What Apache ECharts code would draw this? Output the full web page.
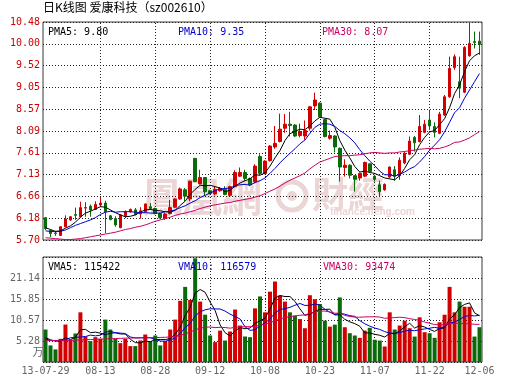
<!DOCTYPE html>
<html><head><meta charset="utf-8">
<script src="https://cdn.jsdelivr.net/npm/echarts@6/dist/echarts.min.js"></script>
<style>html,body{margin:0;padding:0;background:#fff}#c{width:530px;height:391px}</style>
</head><body><div id="c"></div>
<script>
const dates = ['13-07-29','13-07-30','13-07-31','13-08-01','13-08-02','13-08-05','13-08-06','13-08-07','13-08-08','13-08-09',
'13-08-12','13-08-13','13-08-14','13-08-15','13-08-16','13-08-19','13-08-20','13-08-21','13-08-22','13-08-23',
'13-08-26','13-08-27','13-08-28','13-08-29','13-08-30','13-09-02','13-09-03','13-09-04','13-09-05','13-09-06',
'13-09-09','13-09-10','13-09-11','13-09-12','13-09-13','13-09-16','13-09-17','13-09-18','13-09-23','13-09-24',
'13-09-25','13-09-26','13-09-27','13-09-30','13-10-08','13-10-09','13-10-10','13-10-11','13-10-14','13-10-15',
'13-10-16','13-10-17','13-10-18','13-10-21','13-10-22','13-10-23','13-10-24','13-10-25','13-10-28','13-10-29',
'13-10-30','13-10-31','13-11-01','13-11-04','13-11-05','13-11-06','13-11-07','13-11-08','13-11-11','13-11-12',
'13-11-13','13-11-14','13-11-15','13-11-18','13-11-19','13-11-20','13-11-21','13-11-22','13-11-25','13-11-26',
'13-11-27','13-11-28','13-11-29','13-12-02','13-12-03','13-12-04','13-12-05','13-12-06'];

const opens = [6.19,5.91,5.85,5.80,5.99,6.14,6.26,6.21,6.40,6.44,
6.37,6.47,6.51,6.23,6.17,5.97,6.23,6.32,6.36,6.27,
6.32,6.43,6.39,6.28,6.18,6.28,6.42,6.60,6.80,6.60,
7.49,6.93,7.07,6.78,6.71,6.78,6.81,6.68,6.87,7.10,
7.18,7.05,6.98,7.53,7.16,7.44,7.74,7.86,8.15,8.24,
8.22,7.99,7.98,8.15,8.64,8.70,8.34,7.93,7.98,7.71,
7.29,7.34,7.11,7.06,7.10,7.37,7.10,6.91,6.80,7.08,
7.24,7.11,7.39,7.58,7.95,7.86,8.06,8.33,8.19,8.04,
8.44,8.84,9.48,9.17,8.94,9.74,10.05,10.06];

const closes = [5.95,5.84,5.84,5.99,6.16,6.21,6.24,6.41,6.41,6.36,
6.48,6.51,6.32,6.15,6.03,6.25,6.32,6.37,6.26,6.34,
6.49,6.39,6.28,6.19,6.27,6.41,6.60,6.82,6.66,6.99,
6.98,7.07,6.76,6.72,6.81,6.83,6.70,6.87,7.18,7.18,
7.05,6.91,7.32,7.16,7.43,7.76,7.82,8.13,8.24,8.21,
7.98,8.08,8.10,8.62,8.77,8.40,7.97,7.99,7.74,7.30,
7.34,7.12,7.03,7.16,7.40,7.20,7.03,6.76,6.92,7.30,
7.10,7.45,7.60,7.87,7.83,8.19,8.24,8.20,8.06,8.46,
8.84,9.46,9.72,9.03,9.92,10.01,10.03,9.99];

const lows = [5.92,5.76,5.79,5.79,5.98,6.12,6.14,6.20,6.21,6.21,
6.36,6.43,5.85,6.13,5.99,5.96,6.18,6.30,6.24,6.17,
6.31,6.36,6.26,6.17,6.14,6.26,6.41,6.58,6.55,6.55,
6.97,6.92,6.68,6.70,6.68,6.76,6.68,6.66,6.86,7.08,
7.00,6.88,6.95,7.12,7.14,7.42,7.70,7.84,8.05,7.97,
7.96,7.95,7.90,8.10,8.55,8.38,7.95,7.90,7.62,6.98,
7.09,7.05,6.76,7.00,7.08,7.18,6.98,6.65,6.78,7.05,
7.00,7.02,7.36,7.56,7.64,7.84,8.04,8.11,7.95,8.02,
8.42,8.82,9.43,8.81,8.92,9.72,9.90,9.76];

const highs = [6.20,5.93,5.90,6.00,6.24,6.22,6.41,6.54,6.53,6.48,
6.55,6.62,6.56,6.25,6.22,6.27,6.35,6.39,6.40,6.42,
6.50,6.51,6.41,6.30,6.30,6.58,6.61,6.85,6.84,7.00,
7.50,7.24,7.08,6.80,6.87,6.86,6.88,6.89,7.23,7.29,
7.24,7.07,7.36,7.58,7.45,7.78,8.20,8.47,8.46,8.51,
8.24,8.25,8.32,8.64,8.93,8.72,8.36,8.10,8.00,7.73,
7.47,7.36,7.12,7.18,7.42,7.38,7.13,7.00,6.94,7.31,
7.32,7.51,7.64,7.97,7.98,8.44,8.33,8.53,8.28,8.51,
8.88,9.72,9.77,9.72,9.95,10.48,10.27,10.27];

const ma5 = [5.97,5.93,5.89,5.90,5.96,6.01,6.09,6.20,6.29,6.33,
6.38,6.43,6.42,6.36,6.30,6.25,6.21,6.22,6.25,6.31,
6.36,6.37,6.35,6.34,6.32,6.31,6.35,6.46,6.55,6.70,
6.81,6.90,6.89,6.90,6.87,6.84,6.76,6.79,6.88,6.95,
7.00,7.04,7.13,7.12,7.17,7.32,7.50,7.66,7.88,8.03,
8.08,8.13,8.12,8.20,8.31,8.39,8.37,8.35,8.17,7.88,
7.67,7.50,7.31,7.19,7.21,7.18,7.16,7.11,7.06,7.04,
7.02,7.11,7.27,7.46,7.57,7.79,7.95,8.07,8.10,8.23,
8.36,8.60,8.91,9.10,9.39,9.63,9.74,9.80];

const ma10 = [5.90,5.89,5.88,5.89,5.92,5.97,6.02,6.06,6.10,6.14,
6.19,6.26,6.31,6.33,6.31,6.32,6.32,6.32,6.31,6.30,
6.30,6.29,6.29,6.29,6.32,6.33,6.36,6.41,6.45,6.51,
6.56,6.63,6.68,6.73,6.78,6.82,6.83,6.84,6.89,6.91,
6.92,6.90,6.96,7.00,7.06,7.16,7.27,7.39,7.50,7.60,
7.70,7.81,7.89,8.04,8.17,8.24,8.25,8.24,8.19,8.10,
8.03,7.94,7.83,7.68,7.55,7.43,7.33,7.21,7.13,7.13,
7.10,7.14,7.19,7.26,7.31,7.41,7.53,7.67,7.78,7.90,
8.07,8.28,8.49,8.60,8.81,8.99,9.17,9.35];

const ma30 = [5.75,5.74,5.73,5.72,5.71,5.71,5.72,5.73,5.75,5.77,
5.79,5.81,5.83,5.85,5.87,5.90,5.93,5.95,5.98,6.00,
6.03,6.07,6.11,6.14,6.17,6.20,6.24,6.27,6.29,6.32,
6.35,6.39,6.42,6.45,6.47,6.49,6.51,6.52,6.55,6.57,
6.59,6.61,6.64,6.67,6.72,6.77,6.82,6.88,6.95,7.01,
7.06,7.11,7.17,7.26,7.34,7.41,7.45,7.49,7.53,7.54,
7.55,7.55,7.56,7.57,7.59,7.61,7.62,7.61,7.60,7.61,
7.61,7.63,7.64,7.66,7.67,7.69,7.70,7.71,7.70,7.71,
7.74,7.78,7.84,7.85,7.89,7.94,8.01,8.08];

// volume in 万
const volumes = [8.17,4.17,3.17,5.83,9.42,5.58,7.17,12.50,6.42,5.25,
6.25,5.83,10.67,8.17,5.83,4.75,5.83,4.00,4.00,5.42,
6.92,5.17,6.67,4.17,5.25,8.17,10.67,15.40,18.90,15.60,
26.10,15.20,11.90,6.67,5.00,7.90,5.40,7.67,13.20,9.17,
6.42,6.25,13.50,16.50,12.50,17.70,20.25,16.70,15.20,12.50,
11.67,10.80,8.50,16.80,15.80,14.60,10.40,8.90,9.40,16.25,
8.75,7.25,6.67,6.08,7.90,8.60,5.60,5.40,3.90,12.50,
8.17,9.17,10.40,8.50,6.40,11.25,7.50,7.25,6.08,10.00,
11.90,18.90,12.50,15.20,13.90,13.90,6.40,8.75];

const vma5 = [6.10,5.60,5.25,5.25,6.15,5.63,6.23,8.10,8.22,7.38,
7.52,7.25,6.88,7.23,7.35,7.05,7.05,5.72,4.88,4.80,
5.23,5.10,5.64,5.67,5.64,5.89,6.99,8.73,11.68,13.75,
17.33,18.24,17.54,15.09,12.97,9.33,7.37,6.53,7.83,8.67,
8.37,8.54,9.71,10.37,11.03,13.29,16.09,16.73,16.47,16.47,
15.26,13.37,11.73,12.05,12.71,13.30,13.22,13.30,11.82,11.91,
10.74,10.11,9.66,9.00,7.33,7.30,6.97,6.72,6.28,7.20,
7.11,7.83,8.83,9.75,8.53,9.14,8.81,8.18,7.70,8.42,
8.55,10.83,11.88,13.70,14.48,14.88,12.38,11.63];

const vma10 = [5.83,5.40,5.40,5.40,5.60,6.10,6.20,6.30,6.40,6.77,
6.58,6.74,7.49,7.73,7.37,7.28,7.15,6.30,6.06,6.08,
6.14,6.08,5.68,5.28,5.22,5.56,6.04,7.18,8.67,9.69,
11.61,12.61,13.14,13.39,13.36,13.33,12.81,12.03,11.46,10.82,
8.85,7.96,8.12,9.10,9.85,10.83,12.32,13.22,13.42,13.75,
14.28,14.73,14.23,14.26,14.59,14.28,13.30,12.52,11.94,12.31,
12.02,11.67,11.48,10.41,9.62,9.02,8.54,8.19,7.64,7.27,
7.21,7.40,7.77,8.01,7.86,8.13,8.32,8.50,8.72,8.47,
8.85,9.82,10.03,10.70,11.45,11.71,11.60,11.75];

const vma30 = [5.40,5.40,5.40,5.42,5.45,5.48,5.50,5.55,5.60,5.65,
5.70,5.75,5.80,5.85,5.90,5.95,6.00,6.02,6.05,6.08,
6.10,6.13,6.15,6.18,6.22,6.30,6.45,6.70,7.10,7.51,
8.11,8.48,8.77,8.80,8.65,8.73,8.67,8.51,8.73,8.86,
8.87,8.88,8.98,9.25,9.48,9.91,10.39,10.81,11.19,11.42,
11.58,11.77,11.83,12.25,12.60,12.82,12.81,12.59,12.27,12.30,
11.72,11.45,11.28,11.26,11.35,11.38,11.38,11.31,11.00,11.11,
11.17,11.27,11.16,10.90,10.69,10.48,10.05,9.74,9.43,9.35,
9.36,9.63,9.76,9.71,9.64,9.62,9.49,9.48];

const priceAxis = {min: 5.70, max: 10.48, step: 0.478};
const volAxis = {min: 0, max: 26.42, step: 5.284};
const titleText = '日K线图 爱康科技（sz002610）';
const pmaLabels = ['PMA5: 9.80', 'PMA10: 9.35', 'PMA30: 8.07'];
const vmaLabels = ['VMA5: 115422', 'VMA10: 116579', 'VMA30: 93474'];
const volUnit = '万';

const UP = '#d20000', DOWN = '#0b6b0b';
const C5 = '#000000', C10 = '#0000cc', C30 = '#cc0066';
const mono = "'DejaVu Sans Mono','Liberation Mono',monospace";
const dotted = {color: '#222', width: 1, type: [1, 2]};
const gridLineIdx = (i) => i > 0 && i % 11 === 0;
const labelIdx = (i) => i % 11 === 0 || i === dates.length - 1;

const chart = echarts.init(document.getElementById('c'), null, {renderer: 'canvas'});
const wm = '#ebd5d5';
chart.setOption({
  animation: false,
  backgroundColor: '#ffffff',
  grid: [
    {left: 43, right: 48, top: 22, height: 218, show: true, borderColor: '#3a3a3a', borderWidth: 1, backgroundColor: 'transparent'},
    {left: 43, right: 48, top: 257, height: 105, show: true, borderColor: '#3a3a3a', borderWidth: 1, backgroundColor: 'transparent'}
  ],
  xAxis: [
    {type: 'category', gridIndex: 0, data: dates, boundaryGap: true,
     axisLine: {show: false}, axisLabel: {show: false},
     axisTick: {show: true, alignWithLabel: true, inside: true, length: 218, interval: gridLineIdx, lineStyle: dotted},
     splitLine: {show: false}},
    {type: 'category', gridIndex: 1, data: dates, boundaryGap: true,
     axisLine: {show: false},
     axisLabel: {show: true, interval: labelIdx, formatter: (v, i) => i === 0 ? v : v.slice(3),
                 color: '#666', fontFamily: mono, fontSize: 10, margin: 4},
     axisTick: {show: true, alignWithLabel: true, inside: true, length: 105, interval: gridLineIdx, lineStyle: dotted},
     splitLine: {show: false}}
  ],
  yAxis: [
    {type: 'value', gridIndex: 0, min: priceAxis.min, max: priceAxis.max, interval: priceAxis.step,
     axisLine: {show: false}, axisTick: {show: false},
     axisLabel: {color: '#cc0000', fontFamily: mono, fontSize: 10, margin: 3, formatter: (v) => v.toFixed(2)},
     splitLine: {show: true, lineStyle: dotted}},
    {type: 'value', gridIndex: 1, min: volAxis.min, max: volAxis.max, interval: volAxis.step,
     axisLine: {show: false}, axisTick: {show: false},
     axisLabel: {color: '#666', fontFamily: mono, fontSize: 10, margin: 3,
                 formatter: (v) => (v < 0.01 || v > volAxis.max - 0.01) ? '' : v.toFixed(2)},
     splitLine: {show: true, lineStyle: dotted}}
  ],
  graphic: [
    {type: 'text', left: 43, top: 1, z: 10, style: {text: titleText, fill: '#000', font: "12px 'Noto Sans CJK SC'"}},
    {type: 'text', x: 142, y: 197, z: 0, style: {text: '鳳凰網', fill: wm, font: "bold 40px 'Noto Sans CJK TC'", verticalAlign: 'middle'}},
    {type: 'circle', z: 0, shape: {cx: 292, cy: 196, r: 14}, style: {fill: 'none', stroke: wm, lineWidth: 5}},
    {type: 'circle', z: 0, shape: {cx: 292, cy: 196, r: 5}, style: {fill: wm}},
    {type: 'text', x: 312, y: 194, z: 0, style: {text: '財經', fill: wm, font: "bold 36px 'Noto Sans CJK TC'", verticalAlign: 'middle'}},
    {type: 'text', x: 330, y: 212, z: 0, style: {text: 'finance.ifeng.com', fill: wm, font: "bold 10px 'Liberation Sans'", verticalAlign: 'middle'}},
    {type: 'text', x: 48, y: 32, z: 10, style: {text: pmaLabels[0], fill: C5, font: '10px ' + mono, verticalAlign: 'middle'}},
    {type: 'text', x: 178, y: 32, z: 10, style: {text: pmaLabels[1], fill: C10, font: '10px ' + mono, verticalAlign: 'middle'}},
    {type: 'text', x: 322, y: 32, z: 10, style: {text: pmaLabels[2], fill: C30, font: '10px ' + mono, verticalAlign: 'middle'}},
    {type: 'text', x: 48, y: 267, z: 10, style: {text: vmaLabels[0], fill: C5, font: '10px ' + mono, verticalAlign: 'middle'}},
    {type: 'text', x: 178, y: 267, z: 10, style: {text: vmaLabels[1], fill: C10, font: '10px ' + mono, verticalAlign: 'middle'}},
    {type: 'text', x: 323, y: 267, z: 10, style: {text: vmaLabels[2], fill: C30, font: '10px ' + mono, verticalAlign: 'middle'}},
    {type: 'text', x: 38, y: 352, z: 10, style: {text: volUnit, fill: '#666', font: "11px 'Noto Sans CJK SC'", align: 'center', verticalAlign: 'middle'}}
  ],
  series: [
    {type: 'candlestick', xAxisIndex: 0, yAxisIndex: 0, barWidth: 3,
     data: dates.map((d, i) => [opens[i], closes[i], lows[i], highs[i]]),
     itemStyle: {color: UP, color0: DOWN, borderColor: UP, borderColor0: DOWN, borderWidth: 1}},
    {type: 'line', xAxisIndex: 0, yAxisIndex: 0, data: ma5, symbol: 'none', lineStyle: {color: C5, width: 1}},
    {type: 'line', xAxisIndex: 0, yAxisIndex: 0, data: ma10, symbol: 'none', lineStyle: {color: C10, width: 1}},
    {type: 'line', xAxisIndex: 0, yAxisIndex: 0, data: ma30, symbol: 'none', lineStyle: {color: C30, width: 1}},
    {type: 'bar', xAxisIndex: 1, yAxisIndex: 1, barWidth: 4,
     data: volumes.map((v, i) => ({value: v, itemStyle: {color: closes[i] >= opens[i] ? UP : DOWN}}))},
    {type: 'line', xAxisIndex: 1, yAxisIndex: 1, data: vma5, symbol: 'none', lineStyle: {color: C5, width: 1}},
    {type: 'line', xAxisIndex: 1, yAxisIndex: 1, data: vma10, symbol: 'none', lineStyle: {color: C10, width: 1}},
    {type: 'line', xAxisIndex: 1, yAxisIndex: 1, data: vma30, symbol: 'none', lineStyle: {color: C30, width: 1}}
  ]
});
</script></body></html>
